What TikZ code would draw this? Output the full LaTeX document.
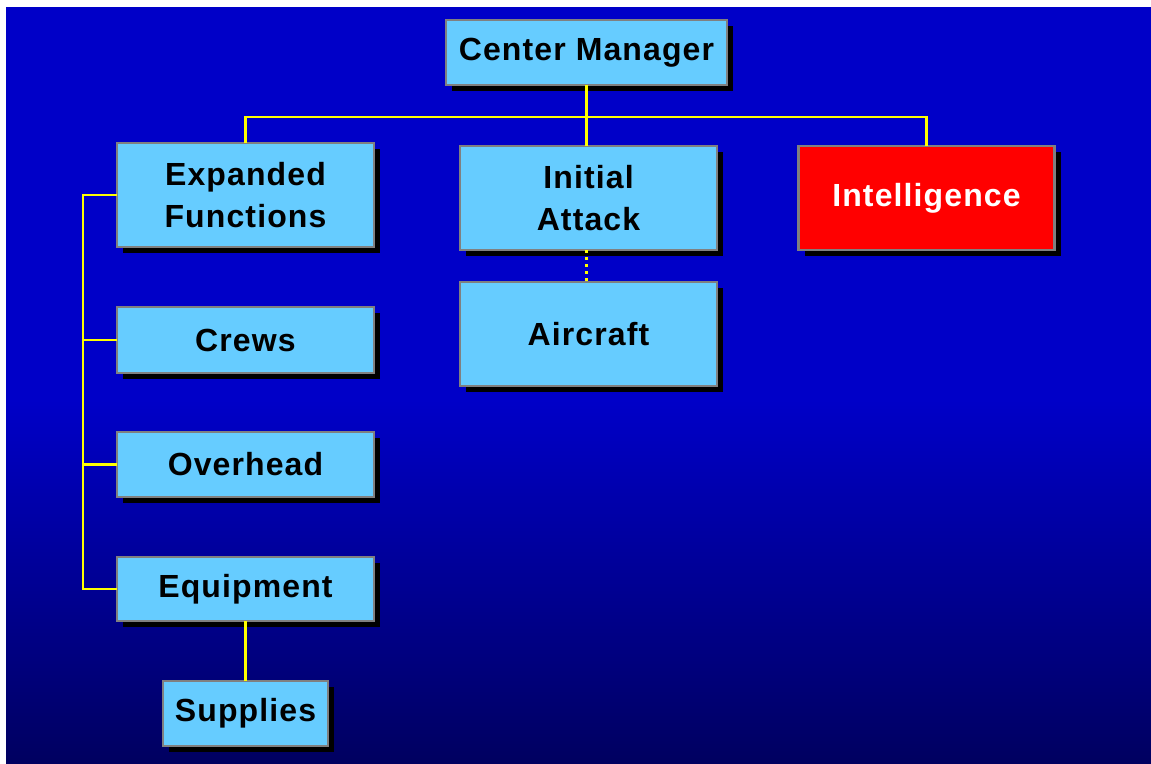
\documentclass[tikz,border=0pt]{standalone}
\usepackage{fontspec}
\setmainfont[LetterSpace=3.5]{Liberation Sans}
\usepackage{tikz}
\usetikzlibrary{shadows}
\definecolor{bgtop}{RGB}{0,0,200}
\definecolor{bgbot}{RGB}{0,0,96}
\definecolor{boxblue}{RGB}{102,204,255}
\definecolor{boxedge}{RGB}{128,128,128}
\definecolor{linkyellow}{RGB}{255,255,0}
\begin{document}
\begin{tikzpicture}[x=1pt, y=-1pt,
  unit/.style={draw=boxedge, line width=2.5pt, fill=boxblue, inner sep=0pt, outer sep=0pt,
    minimum width=257pt, minimum height=65pt, align=center,
    font=\fontsize{32}{42}\selectfont\bfseries,
    drop shadow={shadow xshift=6pt, shadow yshift=-6pt, fill=black, opacity=1}},
  hot/.style={unit, fill=red, text=white},
  link/.style={draw=linkyellow, line width=2.5pt}]
\useasboundingbox (0,0) rectangle (1151,763);
\fill[white] (0,0) rectangle (1151,763);
\fill[bgtop] (6,7) rectangle (1151,401);
\shade[top color=bgtop, bottom color=bgbot] (6,400) rectangle (1151,763);
\node [unit, minimum width=281pt] (cm) at (586.5,52.5) {Center Manager};
\node [unit, minimum height=104pt] (ef) at (245.5,195) {Expanded\\Functions};
\node [unit, minimum height=104pt] (ia) at (588.5,198) {Initial\\Attack};
\node [hot, minimum width=256pt, minimum height=104pt] (intel) at (926.5,198) {Intelligence};
\node [unit, minimum height=104pt] (ac) at (588.5,334) {Aircraft};
\node [unit, minimum height=66pt] (crews) at (245.5,340) {Crews};
\node [unit] (oh) at (245.5,464.5) {Overhead};
\node [unit, minimum height=64pt] (eq) at (245.5,589) {Equipment};
\node [unit, minimum width=165pt] (sup) at (245.5,713.5) {Supplies};
\draw [link] (cm.south) -- ++(0,32) coordinate (bus);
\draw [link] (ef.north) |- (bus) -| (intel.north);
\draw [link] (bus) -- (bus |- ia.north);
\draw [link, dash pattern=on 2.5pt off 4.5pt] (ia.south -| cm.south) -- (cm.south |- ac.north);
\draw [link] (ef.west) -- ++(-34,0) coordinate (spine) |- (eq.west);
\draw [link] (crews.west) -- (crews.west -| spine);
\draw [link] (oh.west) -- (oh.west -| spine);
\draw [link] (eq.south) -- (sup.north);
\end{tikzpicture}
\end{document}
